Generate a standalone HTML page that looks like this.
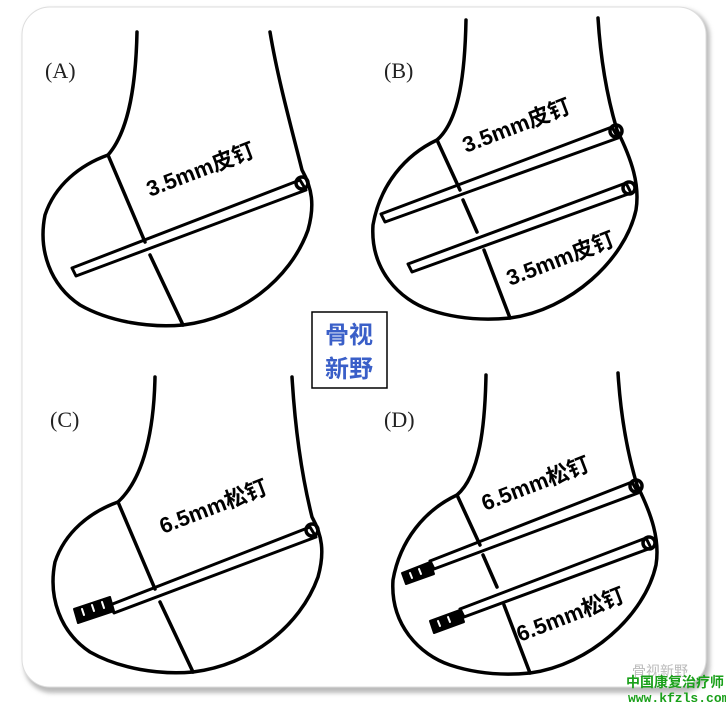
<!DOCTYPE html>
<html><head><meta charset="utf-8"><style>
html,body{margin:0;padding:0;background:#fff;}
body{width:726px;height:708px;position:relative;overflow:hidden;font-family:"Liberation Sans","Noto Sans CJK SC",sans-serif;}
</style></head><body>
<svg width="726" height="708" viewBox="0 0 726 708" xmlns="http://www.w3.org/2000/svg">
<defs>
<filter id="sh" x="-5%" y="-5%" width="110%" height="110%"><feGaussianBlur stdDeviation="2"/></filter>
</defs>
<rect x="24" y="9" width="686" height="684" rx="28" fill="#bbb" filter="url(#sh)"/>
<rect x="22" y="7" width="684" height="680" rx="28" fill="#fff" stroke="#ddd"/>

<g fill="none" stroke="#000" stroke-width="3.5" stroke-linejoin="round" stroke-linecap="round">
<!-- A -->
<g>
<path d="M137,32 C136,80 130,130 108,155 C80,165 55,185 45,215 C38,250 50,285 80,305 C110,322 150,328 183,325 C240,318 290,280 308,230 C315,205 312,188 302,170 C292,130 278,80 270,32"/>
<path d="M108,155 L145,242 M150,255 L183,325"/>
<path d="M72,268 L300,180 L306,190 L76,276 Z" stroke-width="3"/>
<circle cx="302" cy="183" r="6"/>
</g>
<!-- B -->
<g>
<path d="M466,20 C465,70 460,120 437,140 C405,155 380,185 373,225 C370,270 400,300 430,310 C460,320 490,320 510,318 C570,310 625,260 636,210 C640,185 632,160 617,130 C605,90 600,50 598,18"/>
<path d="M437,140 L460,190 M463,200 L477,232 M484,250 L510,318"/>
<path d="M381,214 L612,127 L618,138 L385,222 Z" stroke-width="3"/>
<circle cx="616" cy="131" r="6"/>
<path d="M408,264 L626,183 L631,193 L412,272 Z" stroke-width="3"/>
<circle cx="629" cy="188" r="6"/>
</g>
<!-- C -->
<g transform="translate(10,347)">
<path d="M145,30 C144,80 135,130 108,155 C80,165 55,185 45,215 C38,250 50,285 80,305 C110,322 150,328 183,325 C240,318 290,280 308,230 C315,205 312,188 302,170 C292,130 285,80 282,30"/>
<path d="M108,155 L145,242 M150,255 L183,325"/>
<path d="M100,258 L300,180 L306,190 L104,266 Z" stroke-width="3"/>
<path d="M64,262 L100,250 L104,264 L68,276 Z" fill="#000" stroke-width="2"/>
<path d="M72,262 l2,6 M82,258 l2,6 M92,255 l2,6" stroke="#fff" stroke-width="2"/>
<circle cx="302" cy="183" r="6"/>
</g>
<!-- D -->
<g transform="translate(20,355)">
<path d="M466,20 C465,70 460,120 437,140 C405,155 380,185 373,225 C370,270 400,300 430,310 C460,320 490,320 510,318 C570,310 625,260 636,210 C640,185 632,160 617,130 C605,90 600,50 598,18"/>
<path d="M437,140 L460,190 M463,200 L477,232 M484,250 L510,318"/>
<path d="M410,206 L612,127 L618,138 L414,214 Z" stroke-width="3"/>
<path d="M382,218 L410,207 L414,219 L386,229 Z" fill="#000" stroke-width="2"/>
<path d="M390,218 l2,5 M399,214 l2,5" stroke="#fff" stroke-width="2"/>
<circle cx="616" cy="131" r="6"/>
<path d="M440,254 L626,183 L631,193 L444,262 Z" stroke-width="3"/>
<path d="M410,266 L440,255 L444,267 L414,278 Z" fill="#000" stroke-width="2"/>
<path d="M418,266 l2,5 M428,262 l2,5" stroke="#fff" stroke-width="2"/>
<circle cx="629" cy="188" r="6"/>
</g>
</g>

<g font-family="Liberation Serif,serif" font-size="22" fill="#222">
<text x="45" y="78">(A)</text>
<text x="384" y="78">(B)</text>
<text x="50" y="427">(C)</text>
<text x="384" y="427">(D)</text>
</g>
<g font-family="Liberation Sans,'Noto Sans CJK SC',sans-serif" font-size="22" font-weight="bold" fill="#000">
<text transform="translate(150,197) rotate(-21)">3.5mm皮钉</text>
<text transform="translate(466,153) rotate(-21)">3.5mm皮钉</text>
<text transform="translate(510,286) rotate(-21)">3.5mm皮钉</text>
<text transform="translate(163,534) rotate(-21)">6.5mm松钉</text>
<text transform="translate(485,511) rotate(-21)">6.5mm松钉</text>
<text transform="translate(520,642) rotate(-21)">6.5mm松钉</text>
</g>
<rect x="312" y="312" width="75" height="76" fill="#fff" stroke="#000" stroke-width="1.5"/>
<g font-family="'Noto Sans CJK SC',sans-serif" font-size="24" font-weight="bold" fill="#3a5fc8">
<text x="349" y="343" text-anchor="middle">骨视</text>
<text x="349" y="377" text-anchor="middle">新野</text>
</g>
<text x="632" y="676" font-family="'Noto Sans CJK SC',sans-serif" font-size="14" fill="#bbb">骨视新野</text>
<text x="626" y="687" font-family="'Noto Sans CJK SC',sans-serif" font-size="14" font-weight="bold" fill="#1aa01a">中国康复治疗师</text>
<text x="628" y="702" font-family="Liberation Mono,monospace" font-size="13" font-weight="bold" fill="#1aa01a">www.kfzls.com</text>
</svg>
</body></html>
